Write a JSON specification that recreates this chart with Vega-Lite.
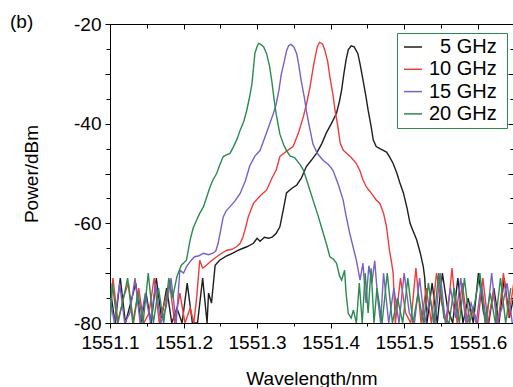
{
  "$schema": "https://vega.github.io/schema/vega-lite/v6.json",
  "autosize": "none",
  "width": 403,
  "height": 299,
  "padding": {"left": 110, "top": 24, "right": 0, "bottom": 64},
  "config": {"font": "Liberation Sans", "view": {"stroke": null}},
  "title": {"text": "(b)", "anchor": "start", "frame": "group", "orient": "top", "dx": -100, "dy": 22, "offset": -4, "baseline": "middle", "fontSize": 19, "fontWeight": "normal", "font": "Liberation Sans"},
  "data": {"values": [
    {"s":"5 GHz","x":1551.100,"y":-73},{"s":"5 GHz","x":1551.107,"y":-80},{"s":"5 GHz","x":1551.114,"y":-71},{"s":"5 GHz","x":1551.121,"y":-80},{"s":"5 GHz","x":1551.128,"y":-76},{"s":"5 GHz","x":1551.135,"y":-72},{"s":"5 GHz","x":1551.142,"y":-80},{"s":"5 GHz","x":1551.149,"y":-74},{"s":"5 GHz","x":1551.156,"y":-80},{"s":"5 GHz","x":1551.163,"y":-71},{"s":"5 GHz","x":1551.170,"y":-79},{"s":"5 GHz","x":1551.177,"y":-73},{"s":"5 GHz","x":1551.184,"y":-80},{"s":"5 GHz","x":1551.191,"y":-77},{"s":"5 GHz","x":1551.198,"y":-80},{"s":"5 GHz","x":1551.205,"y":-72},{"s":"5 GHz","x":1551.212,"y":-80},{"s":"5 GHz","x":1551.219,"y":-80},{"s":"5 GHz","x":1551.226,"y":-71},{"s":"5 GHz","x":1551.232,"y":-80},
    {"s":"5 GHz","x":1551.234,"y":-74},{"s":"5 GHz","x":1551.238,"y":-76},{"s":"5 GHz","x":1551.243,"y":-68.4},{"s":"5 GHz","x":1551.249,"y":-67.4},{"s":"5 GHz","x":1551.258,"y":-66.6},{"s":"5 GHz","x":1551.267,"y":-66.0},{"s":"5 GHz","x":1551.276,"y":-65.3},{"s":"5 GHz","x":1551.286,"y":-64.7},{"s":"5 GHz","x":1551.295,"y":-64.0},{"s":"5 GHz","x":1551.300,"y":-63.0},{"s":"5 GHz","x":1551.304,"y":-63.6},{"s":"5 GHz","x":1551.310,"y":-62.8},{"s":"5 GHz","x":1551.316,"y":-63.0},{"s":"5 GHz","x":1551.321,"y":-62.7},{"s":"5 GHz","x":1551.326,"y":-62.0},{"s":"5 GHz","x":1551.331,"y":-60.7},{"s":"5 GHz","x":1551.336,"y":-57},{"s":"5 GHz","x":1551.340,"y":-53.9},{"s":"5 GHz","x":1551.347,"y":-53.0},{"s":"5 GHz","x":1551.354,"y":-52.3},{"s":"5 GHz","x":1551.360,"y":-51},{"s":"5 GHz","x":1551.367,"y":-48.6},{"s":"5 GHz","x":1551.374,"y":-47.3},{"s":"5 GHz","x":1551.381,"y":-45.9},{"s":"5 GHz","x":1551.388,"y":-44},{"s":"5 GHz","x":1551.394,"y":-41.9},{"s":"5 GHz","x":1551.401,"y":-40},{"s":"5 GHz","x":1551.408,"y":-37.9},{"s":"5 GHz","x":1551.412,"y":-35.5},{"s":"5 GHz","x":1551.415,"y":-33.2},{"s":"5 GHz","x":1551.418,"y":-30},{"s":"5 GHz","x":1551.421,"y":-27.2},{"s":"5 GHz","x":1551.424,"y":-25.2},{"s":"5 GHz","x":1551.428,"y":-24.4},{"s":"5 GHz","x":1551.432,"y":-24.6},{"s":"5 GHz","x":1551.437,"y":-25.9},{"s":"5 GHz","x":1551.440,"y":-28},{"s":"5 GHz","x":1551.444,"y":-31.2},{"s":"5 GHz","x":1551.448,"y":-34.5},{"s":"5 GHz","x":1551.451,"y":-37.3},{"s":"5 GHz","x":1551.455,"y":-40.5},{"s":"5 GHz","x":1551.458,"y":-43.3},{"s":"5 GHz","x":1551.462,"y":-44.6},{"s":"5 GHz","x":1551.467,"y":-45.0},{"s":"5 GHz","x":1551.471,"y":-45.3},{"s":"5 GHz","x":1551.476,"y":-45.7},{"s":"5 GHz","x":1551.480,"y":-46.6},{"s":"5 GHz","x":1551.485,"y":-48.0},{"s":"5 GHz","x":1551.490,"y":-49.9},{"s":"5 GHz","x":1551.494,"y":-51.8},{"s":"5 GHz","x":1551.499,"y":-53.9},{"s":"5 GHz","x":1551.504,"y":-57},{"s":"5 GHz","x":1551.508,"y":-60},{"s":"5 GHz","x":1551.512,"y":-61.5},{"s":"5 GHz","x":1551.517,"y":-63.3},{"s":"5 GHz","x":1551.522,"y":-66},{"s":"5 GHz","x":1551.526,"y":-68.7},{"s":"5 GHz","x":1551.528,"y":-71},
    {"s":"5 GHz","x":1551.531,"y":-80},{"s":"5 GHz","x":1551.538,"y":-72},{"s":"5 GHz","x":1551.545,"y":-80},{"s":"5 GHz","x":1551.552,"y":-70},{"s":"5 GHz","x":1551.559,"y":-77},{"s":"5 GHz","x":1551.566,"y":-80},{"s":"5 GHz","x":1551.573,"y":-71},{"s":"5 GHz","x":1551.580,"y":-80},{"s":"5 GHz","x":1551.587,"y":-75},{"s":"5 GHz","x":1551.594,"y":-80},{"s":"5 GHz","x":1551.601,"y":-70},{"s":"5 GHz","x":1551.608,"y":-78},{"s":"5 GHz","x":1551.615,"y":-80},{"s":"5 GHz","x":1551.622,"y":-73},{"s":"5 GHz","x":1551.629,"y":-80},{"s":"5 GHz","x":1551.636,"y":-71},{"s":"5 GHz","x":1551.643,"y":-79},{"s":"5 GHz","x":1551.650,"y":-74},

    {"s":"10 GHz","x":1551.100,"y":-80},{"s":"10 GHz","x":1551.104,"y":-71},{"s":"10 GHz","x":1551.111,"y":-80},{"s":"10 GHz","x":1551.118,"y":-75},{"s":"10 GHz","x":1551.125,"y":-72},{"s":"10 GHz","x":1551.132,"y":-80},{"s":"10 GHz","x":1551.139,"y":-73},{"s":"10 GHz","x":1551.146,"y":-80},{"s":"10 GHz","x":1551.153,"y":-78},{"s":"10 GHz","x":1551.160,"y":-71},{"s":"10 GHz","x":1551.167,"y":-80},{"s":"10 GHz","x":1551.174,"y":-76},{"s":"10 GHz","x":1551.181,"y":-72},{"s":"10 GHz","x":1551.188,"y":-80},{"s":"10 GHz","x":1551.195,"y":-74},{"s":"10 GHz","x":1551.202,"y":-80},{"s":"10 GHz","x":1551.209,"y":-77},{"s":"10 GHz","x":1551.214,"y":-80},
    {"s":"10 GHz","x":1551.218,"y":-74.7},{"s":"10 GHz","x":1551.222,"y":-67.4},{"s":"10 GHz","x":1551.226,"y":-69},{"s":"10 GHz","x":1551.231,"y":-68.4},{"s":"10 GHz","x":1551.238,"y":-67.5},{"s":"10 GHz","x":1551.245,"y":-66.7},{"s":"10 GHz","x":1551.252,"y":-66},{"s":"10 GHz","x":1551.259,"y":-65.4},{"s":"10 GHz","x":1551.266,"y":-65.2},{"s":"10 GHz","x":1551.272,"y":-64.7},{"s":"10 GHz","x":1551.277,"y":-64},{"s":"10 GHz","x":1551.281,"y":-62.7},{"s":"10 GHz","x":1551.285,"y":-60.5},{"s":"10 GHz","x":1551.288,"y":-58.7},{"s":"10 GHz","x":1551.295,"y":-56.0},{"s":"10 GHz","x":1551.304,"y":-54.5},{"s":"10 GHz","x":1551.313,"y":-53.3},{"s":"10 GHz","x":1551.320,"y":-51},{"s":"10 GHz","x":1551.326,"y":-49.3},{"s":"10 GHz","x":1551.331,"y":-46.6},{"s":"10 GHz","x":1551.336,"y":-46.0},{"s":"10 GHz","x":1551.342,"y":-45.3},{"s":"10 GHz","x":1551.349,"y":-44.6},{"s":"10 GHz","x":1551.356,"y":-42},{"s":"10 GHz","x":1551.363,"y":-38.6},{"s":"10 GHz","x":1551.368,"y":-35.5},{"s":"10 GHz","x":1551.372,"y":-32.6},{"s":"10 GHz","x":1551.376,"y":-29},{"s":"10 GHz","x":1551.379,"y":-26.6},{"s":"10 GHz","x":1551.382,"y":-24.5},{"s":"10 GHz","x":1551.385,"y":-23.7},{"s":"10 GHz","x":1551.389,"y":-24.0},{"s":"10 GHz","x":1551.392,"y":-25.2},{"s":"10 GHz","x":1551.396,"y":-27.5},{"s":"10 GHz","x":1551.399,"y":-30.6},{"s":"10 GHz","x":1551.403,"y":-34},{"s":"10 GHz","x":1551.406,"y":-37.3},{"s":"10 GHz","x":1551.410,"y":-40.7},{"s":"10 GHz","x":1551.413,"y":-43.9},{"s":"10 GHz","x":1551.417,"y":-45.3},{"s":"10 GHz","x":1551.422,"y":-46.0},{"s":"10 GHz","x":1551.428,"y":-46.8},{"s":"10 GHz","x":1551.435,"y":-48.0},{"s":"10 GHz","x":1551.440,"y":-49.5},{"s":"10 GHz","x":1551.444,"y":-51.3},{"s":"10 GHz","x":1551.449,"y":-52.8},{"s":"10 GHz","x":1551.453,"y":-53.5},{"s":"10 GHz","x":1551.458,"y":-54.5},{"s":"10 GHz","x":1551.462,"y":-55.3},{"s":"10 GHz","x":1551.467,"y":-56.0},{"s":"10 GHz","x":1551.472,"y":-58},{"s":"10 GHz","x":1551.476,"y":-60.7},{"s":"10 GHz","x":1551.478,"y":-63},{"s":"10 GHz","x":1551.480,"y":-65.4},{"s":"10 GHz","x":1551.483,"y":-68},{"s":"10 GHz","x":1551.485,"y":-70},
    {"s":"10 GHz","x":1551.488,"y":-80},{"s":"10 GHz","x":1551.495,"y":-71},{"s":"10 GHz","x":1551.502,"y":-78},{"s":"10 GHz","x":1551.509,"y":-80},{"s":"10 GHz","x":1551.516,"y":-69},{"s":"10 GHz","x":1551.523,"y":-80},{"s":"10 GHz","x":1551.530,"y":-73},{"s":"10 GHz","x":1551.537,"y":-80},{"s":"10 GHz","x":1551.544,"y":-70},{"s":"10 GHz","x":1551.551,"y":-76},{"s":"10 GHz","x":1551.558,"y":-80},{"s":"10 GHz","x":1551.565,"y":-69},{"s":"10 GHz","x":1551.572,"y":-80},{"s":"10 GHz","x":1551.579,"y":-72},{"s":"10 GHz","x":1551.586,"y":-80},{"s":"10 GHz","x":1551.593,"y":-77},{"s":"10 GHz","x":1551.600,"y":-80},{"s":"10 GHz","x":1551.607,"y":-71},{"s":"10 GHz","x":1551.614,"y":-80},{"s":"10 GHz","x":1551.621,"y":-74},{"s":"10 GHz","x":1551.628,"y":-80},{"s":"10 GHz","x":1551.635,"y":-70},{"s":"10 GHz","x":1551.642,"y":-79},{"s":"10 GHz","x":1551.649,"y":-72},

    {"s":"15 GHz","x":1551.100,"y":-75},{"s":"15 GHz","x":1551.106,"y":-80},{"s":"15 GHz","x":1551.113,"y":-72},{"s":"15 GHz","x":1551.120,"y":-80},{"s":"15 GHz","x":1551.127,"y":-78},{"s":"15 GHz","x":1551.134,"y":-71},{"s":"15 GHz","x":1551.141,"y":-80},{"s":"15 GHz","x":1551.148,"y":-74},{"s":"15 GHz","x":1551.155,"y":-80},{"s":"15 GHz","x":1551.162,"y":-72},{"s":"15 GHz","x":1551.169,"y":-80},{"s":"15 GHz","x":1551.176,"y":-77},{"s":"15 GHz","x":1551.183,"y":-71},{"s":"15 GHz","x":1551.190,"y":-80},
    {"s":"15 GHz","x":1551.195,"y":-69.4},{"s":"15 GHz","x":1551.200,"y":-70},{"s":"15 GHz","x":1551.204,"y":-68.7},{"s":"15 GHz","x":1551.210,"y":-67.5},{"s":"15 GHz","x":1551.215,"y":-66.7},{"s":"15 GHz","x":1551.221,"y":-66.5},{"s":"15 GHz","x":1551.227,"y":-66.0},{"s":"15 GHz","x":1551.234,"y":-66.3},{"s":"15 GHz","x":1551.240,"y":-66.0},{"s":"15 GHz","x":1551.244,"y":-65.5},{"s":"15 GHz","x":1551.247,"y":-64.0},{"s":"15 GHz","x":1551.251,"y":-61},{"s":"15 GHz","x":1551.254,"y":-58.7},{"s":"15 GHz","x":1551.258,"y":-57.5},{"s":"15 GHz","x":1551.263,"y":-56.7},{"s":"15 GHz","x":1551.270,"y":-55.5},{"s":"15 GHz","x":1551.277,"y":-54.0},{"s":"15 GHz","x":1551.284,"y":-51.5},{"s":"15 GHz","x":1551.290,"y":-48.5},{"s":"15 GHz","x":1551.297,"y":-46.5},{"s":"15 GHz","x":1551.304,"y":-45.4},{"s":"15 GHz","x":1551.310,"y":-43},{"s":"15 GHz","x":1551.317,"y":-40.1},{"s":"15 GHz","x":1551.322,"y":-38},{"s":"15 GHz","x":1551.326,"y":-36.1},{"s":"15 GHz","x":1551.330,"y":-33},{"s":"15 GHz","x":1551.333,"y":-30.0},{"s":"15 GHz","x":1551.337,"y":-27.5},{"s":"15 GHz","x":1551.340,"y":-25.4},{"s":"15 GHz","x":1551.343,"y":-24.3},{"s":"15 GHz","x":1551.346,"y":-24.1},{"s":"15 GHz","x":1551.350,"y":-24.6},{"s":"15 GHz","x":1551.354,"y":-26.0},{"s":"15 GHz","x":1551.357,"y":-28.5},{"s":"15 GHz","x":1551.360,"y":-31.4},{"s":"15 GHz","x":1551.364,"y":-34.5},{"s":"15 GHz","x":1551.367,"y":-37.4},{"s":"15 GHz","x":1551.371,"y":-40.5},{"s":"15 GHz","x":1551.376,"y":-44.1},{"s":"15 GHz","x":1551.382,"y":-46.0},{"s":"15 GHz","x":1551.390,"y":-47.4},{"s":"15 GHz","x":1551.397,"y":-48.2},{"s":"15 GHz","x":1551.403,"y":-49.3},{"s":"15 GHz","x":1551.410,"y":-52},{"s":"15 GHz","x":1551.417,"y":-55.3},{"s":"15 GHz","x":1551.421,"y":-58.5},{"s":"15 GHz","x":1551.426,"y":-62.0},{"s":"15 GHz","x":1551.431,"y":-65},{"s":"15 GHz","x":1551.435,"y":-67.4},{"s":"15 GHz","x":1551.440,"y":-71.4},
    {"s":"15 GHz","x":1551.444,"y":-68},{"s":"15 GHz","x":1551.448,"y":-76},{"s":"15 GHz","x":1551.452,"y":-68.5},{"s":"15 GHz","x":1551.456,"y":-72},{"s":"15 GHz","x":1551.460,"y":-67.5},{"s":"15 GHz","x":1551.464,"y":-75},{"s":"15 GHz","x":1551.468,"y":-80},{"s":"15 GHz","x":1551.472,"y":-70},{"s":"15 GHz","x":1551.479,"y":-80},{"s":"15 GHz","x":1551.486,"y":-73},{"s":"15 GHz","x":1551.493,"y":-80},{"s":"15 GHz","x":1551.500,"y":-70},{"s":"15 GHz","x":1551.507,"y":-78},{"s":"15 GHz","x":1551.514,"y":-80},{"s":"15 GHz","x":1551.521,"y":-71},{"s":"15 GHz","x":1551.528,"y":-80},{"s":"15 GHz","x":1551.535,"y":-75},{"s":"15 GHz","x":1551.542,"y":-80},{"s":"15 GHz","x":1551.549,"y":-70},{"s":"15 GHz","x":1551.556,"y":-80},{"s":"15 GHz","x":1551.563,"y":-73},{"s":"15 GHz","x":1551.570,"y":-79},{"s":"15 GHz","x":1551.577,"y":-71},{"s":"15 GHz","x":1551.584,"y":-80},{"s":"15 GHz","x":1551.591,"y":-76},{"s":"15 GHz","x":1551.598,"y":-80},{"s":"15 GHz","x":1551.605,"y":-72},{"s":"15 GHz","x":1551.612,"y":-80},{"s":"15 GHz","x":1551.619,"y":-70},{"s":"15 GHz","x":1551.626,"y":-80},{"s":"15 GHz","x":1551.633,"y":-77},{"s":"15 GHz","x":1551.640,"y":-72},{"s":"15 GHz","x":1551.647,"y":-80},

    {"s":"20 GHz","x":1551.100,"y":-80},{"s":"20 GHz","x":1551.103,"y":-72},{"s":"20 GHz","x":1551.110,"y":-80},{"s":"20 GHz","x":1551.117,"y":-76},{"s":"20 GHz","x":1551.124,"y":-71},{"s":"20 GHz","x":1551.131,"y":-80},{"s":"20 GHz","x":1551.138,"y":-74},{"s":"20 GHz","x":1551.145,"y":-80},{"s":"20 GHz","x":1551.152,"y":-70},{"s":"20 GHz","x":1551.159,"y":-80},{"s":"20 GHz","x":1551.166,"y":-73},{"s":"20 GHz","x":1551.173,"y":-80},{"s":"20 GHz","x":1551.180,"y":-71},{"s":"20 GHz","x":1551.185,"y":-75},
    {"s":"20 GHz","x":1551.191,"y":-70.7},{"s":"20 GHz","x":1551.194,"y":-69.5},{"s":"20 GHz","x":1551.197,"y":-68.4},{"s":"20 GHz","x":1551.204,"y":-67.4},{"s":"20 GHz","x":1551.209,"y":-63.3},{"s":"20 GHz","x":1551.213,"y":-61},{"s":"20 GHz","x":1551.218,"y":-59.3},{"s":"20 GHz","x":1551.222,"y":-58},{"s":"20 GHz","x":1551.227,"y":-56.7},{"s":"20 GHz","x":1551.232,"y":-54.5},{"s":"20 GHz","x":1551.236,"y":-52.7},{"s":"20 GHz","x":1551.240,"y":-51.3},{"s":"20 GHz","x":1551.245,"y":-50.0},{"s":"20 GHz","x":1551.250,"y":-48},{"s":"20 GHz","x":1551.254,"y":-46.6},{"s":"20 GHz","x":1551.259,"y":-46.2},{"s":"20 GHz","x":1551.263,"y":-46.0},{"s":"20 GHz","x":1551.268,"y":-44.6},{"s":"20 GHz","x":1551.273,"y":-43},{"s":"20 GHz","x":1551.277,"y":-41.3},{"s":"20 GHz","x":1551.282,"y":-39.5},{"s":"20 GHz","x":1551.286,"y":-37.3},{"s":"20 GHz","x":1551.290,"y":-34.5},{"s":"20 GHz","x":1551.293,"y":-32},{"s":"20 GHz","x":1551.295,"y":-29},{"s":"20 GHz","x":1551.297,"y":-25.9},{"s":"20 GHz","x":1551.300,"y":-24.5},{"s":"20 GHz","x":1551.302,"y":-23.9},{"s":"20 GHz","x":1551.305,"y":-24.1},{"s":"20 GHz","x":1551.309,"y":-24.6},{"s":"20 GHz","x":1551.313,"y":-26.0},{"s":"20 GHz","x":1551.317,"y":-28.5},{"s":"20 GHz","x":1551.320,"y":-31.4},{"s":"20 GHz","x":1551.323,"y":-35},{"s":"20 GHz","x":1551.326,"y":-38.1},{"s":"20 GHz","x":1551.331,"y":-42.1},{"s":"20 GHz","x":1551.336,"y":-44.2},{"s":"20 GHz","x":1551.340,"y":-45.4},{"s":"20 GHz","x":1551.345,"y":-46.5},{"s":"20 GHz","x":1551.351,"y":-46.8},{"s":"20 GHz","x":1551.358,"y":-48.1},{"s":"20 GHz","x":1551.363,"y":-49.3},{"s":"20 GHz","x":1551.370,"y":-52.5},{"s":"20 GHz","x":1551.376,"y":-55.3},{"s":"20 GHz","x":1551.383,"y":-58.5},{"s":"20 GHz","x":1551.390,"y":-62.0},{"s":"20 GHz","x":1551.395,"y":-64.5},{"s":"20 GHz","x":1551.399,"y":-66.7},{"s":"20 GHz","x":1551.404,"y":-67.2},{"s":"20 GHz","x":1551.408,"y":-68.0},{"s":"20 GHz","x":1551.412,"y":-70.5},{"s":"20 GHz","x":1551.415,"y":-71.4},{"s":"20 GHz","x":1551.419,"y":-69.4},{"s":"20 GHz","x":1551.421,"y":-74},{"s":"20 GHz","x":1551.424,"y":-78.1},{"s":"20 GHz","x":1551.428,"y":-79},{"s":"20 GHz","x":1551.431,"y":-77.4},
    {"s":"20 GHz","x":1551.435,"y":-80},{"s":"20 GHz","x":1551.439,"y":-72},{"s":"20 GHz","x":1551.443,"y":-80},{"s":"20 GHz","x":1551.447,"y":-70},{"s":"20 GHz","x":1551.451,"y":-78},{"s":"20 GHz","x":1551.455,"y":-69},{"s":"20 GHz","x":1551.459,"y":-80},{"s":"20 GHz","x":1551.463,"y":-73},{"s":"20 GHz","x":1551.470,"y":-80},{"s":"20 GHz","x":1551.477,"y":-70},{"s":"20 GHz","x":1551.484,"y":-80},{"s":"20 GHz","x":1551.491,"y":-75},{"s":"20 GHz","x":1551.498,"y":-80},{"s":"20 GHz","x":1551.505,"y":-71},{"s":"20 GHz","x":1551.512,"y":-80},{"s":"20 GHz","x":1551.519,"y":-74},{"s":"20 GHz","x":1551.526,"y":-80},{"s":"20 GHz","x":1551.533,"y":-72},{"s":"20 GHz","x":1551.540,"y":-80},{"s":"20 GHz","x":1551.547,"y":-70},{"s":"20 GHz","x":1551.554,"y":-79},{"s":"20 GHz","x":1551.561,"y":-80},{"s":"20 GHz","x":1551.568,"y":-73},{"s":"20 GHz","x":1551.575,"y":-80},{"s":"20 GHz","x":1551.582,"y":-71},{"s":"20 GHz","x":1551.589,"y":-80},{"s":"20 GHz","x":1551.596,"y":-76},{"s":"20 GHz","x":1551.603,"y":-70},{"s":"20 GHz","x":1551.610,"y":-80},{"s":"20 GHz","x":1551.617,"y":-74},{"s":"20 GHz","x":1551.624,"y":-80},{"s":"20 GHz","x":1551.631,"y":-71},{"s":"20 GHz","x":1551.638,"y":-80},{"s":"20 GHz","x":1551.645,"y":-73}
  ]},
  "resolve": {"axis": {"x": "independent", "y": "independent"}},
  "layer": [
    {
      "mark": {"type": "line", "strokeWidth": 1.4, "clip": true, "interpolate": "linear"},
      "encoding": {
        "x": {"field": "x", "type": "quantitative",
          "scale": {"domain": [1551.1, 1551.648], "nice": false, "zero": false},
          "axis": {"orient": "bottom", "title": "Wavelength/nm", "values": [1551.1,1551.15,1551.2,1551.25,1551.3,1551.35,1551.4,1551.45,1551.5,1551.55,1551.6],
            "labelExpr": "abs(datum.value*10 - round(datum.value*10)) < 0.01 ? format(datum.value, '.1f') : ''",
            "tickSize": {"condition": {"test": "abs(datum.value*10 - round(datum.value*10)) < 0.01", "value": 5}, "value": 3},
            "labelOverlap": false, "labelFlush": false, "labelFontSize": 19, "labelColor": "#000", "labelFont": "Liberation Sans", "labelPadding": 5,
            "titleFontSize": 19, "titleFont": "Liberation Sans", "titleFontWeight": "normal", "titleColor": "#000", "titlePadding": 17,
            "domainColor": "#000", "tickColor": "#000", "grid": false}},
        "y": {"field": "y", "type": "quantitative",
          "scale": {"domain": [-80, -20], "nice": false, "zero": false},
          "axis": {"orient": "left", "title": "Power/dBm", "values": [-80,-75,-70,-65,-60,-55,-50,-45,-40,-35,-30,-25,-20],
            "labelExpr": "datum.value % 20 == 0 ? '' + datum.value : ''",
            "tickSize": {"condition": {"test": "datum.value % 10 == 0", "value": 5}, "value": 4},
            "labelOverlap": false, "labelFlush": false, "labelFontSize": 19, "labelColor": "#000", "labelFont": "Liberation Sans", "labelPadding": 4,
            "titleFontSize": 19, "titleFont": "Liberation Sans", "titleFontWeight": "normal", "titleColor": "#000", "titlePadding": 32,
            "domainColor": "#000", "tickColor": "#000", "grid": false}},
        "color": {"field": "s", "type": "nominal",
          "scale": {"domain": ["5 GHz", "10 GHz", "15 GHz", "20 GHz"], "range": ["#1e1e1e", "#f23a3a", "#7b5fc8", "#2b8a4f"]},
          "legend": {"title": null, "orient": "none", "legendX": 287, "legendY": 9, "padding": 4,
            "strokeColor": "#2b8a4f", "fillColor": "#ffffff",
            "symbolType": "stroke", "symbolSize": 324, "symbolStrokeWidth": 1.5, "symbolOffset": 2,
            "labelFontSize": 20, "labelFont": "Liberation Sans", "labelColor": "#000", "labelOffset": 6, "rowPadding": 2.3,
            "labelExpr": "datum.label == '5 GHz' ? '\u200b\u00a0\u00a05 GHz\u00a0\u200b' : datum.label + '\u00a0\u200b'"}}
      }
    },
    {
      "mark": {"type": "point", "opacity": 0},
      "encoding": {
        "x": {"field": "x", "type": "quantitative",
          "scale": {"domain": [1551.1, 1551.648], "nice": false, "zero": false},
          "axis": {"orient": "top", "title": null, "labels": false, "values": [1551.1,1551.15,1551.2,1551.25,1551.3,1551.35,1551.4,1551.45,1551.5,1551.55,1551.6],
            "tickSize": {"condition": {"test": "abs(datum.value*10 - round(datum.value*10)) < 0.01", "value": -5}, "value": -4},
            "domainColor": "#000", "tickColor": "#000", "grid": false}},
        "y": {"field": "y", "type": "quantitative",
          "scale": {"domain": [-80, -20], "nice": false, "zero": false},
          "axis": {"orient": "right", "title": null, "labels": false, "values": [-80,-75,-70,-65,-60,-55,-50,-45,-40,-35,-30,-25,-20],
            "tickSize": {"condition": {"test": "datum.value % 10 == 0", "value": -5}, "value": -3},
            "domainColor": "#000", "tickColor": "#000", "grid": false}}
      }
    }
  ]
}
